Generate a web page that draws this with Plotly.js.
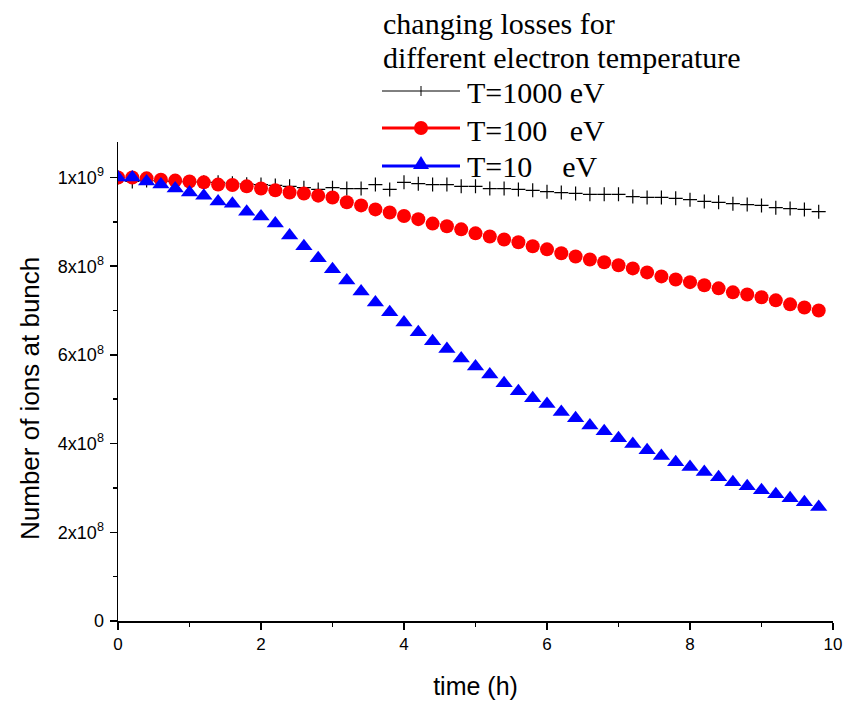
<!DOCTYPE html>
<html>
<head>
<meta charset="utf-8">
<script src="https://cdn.plot.ly/plotly-3.0.1.min.js"></script>
<style>html,body{margin:0;padding:0;background:#fff;}#chart{width:850px;height:704px;}</style>
</head>
<body>
<div id="chart"></div>
<script>
// time in hours
const time = [0,0.2,0.4,0.6,0.8,1,1.2,1.4,1.6,1.8,2,2.2,2.4,2.6,2.8,3,3.2,3.4,3.6,3.8,4,4.2,4.4,4.6,4.8,5,5.2,5.4,5.6,5.8,6,6.2,6.4,6.6,6.8,7,7.2,7.4,7.6,7.8,8,8.2,8.4,8.6,8.8,9,9.2,9.4,9.6,9.8];

// Number of ions at bunch
const ionsT1000 = [1.000e9,0.991e9,0.993e9,0.992e9,0.991e9,0.990e9,0.989e9,0.989e9,0.987e9,0.985e9,0.984e9,0.982e9,0.980e9,0.977e9,0.973e9,0.977e9,0.975e9,0.975e9,0.984e9,0.973e9,0.989e9,0.986e9,0.984e9,0.984e9,0.980e9,0.980e9,0.975e9,0.975e9,0.973e9,0.971e9,0.968e9,0.966e9,0.964e9,0.962e9,0.962e9,0.962e9,0.957e9,0.955e9,0.955e9,0.953e9,0.950e9,0.946e9,0.944e9,0.941e9,0.939e9,0.937e9,0.932e9,0.930e9,0.928e9,0.923e9];
const ionsT100 = [1.000e9,1.000e9,0.998e9,0.995e9,0.993e9,0.991e9,0.989e9,0.984e9,0.983e9,0.980e9,0.975e9,0.971e9,0.966e9,0.964e9,0.959e9,0.955e9,0.944e9,0.937e9,0.928e9,0.921e9,0.913e9,0.906e9,0.896e9,0.890e9,0.883e9,0.874e9,0.867e9,0.860e9,0.854e9,0.845e9,0.838e9,0.829e9,0.822e9,0.815e9,0.809e9,0.802e9,0.795e9,0.786e9,0.777e9,0.770e9,0.764e9,0.757e9,0.750e9,0.741e9,0.736e9,0.730e9,0.723e9,0.714e9,0.707e9,0.700e9];
const ionsT10 = [1.000e9,1.000e9,0.991e9,0.984e9,0.975e9,0.966e9,0.959e9,0.946e9,0.941e9,0.923e9,0.912e9,0.896e9,0.869e9,0.845e9,0.818e9,0.793e9,0.768e9,0.743e9,0.718e9,0.696e9,0.673e9,0.651e9,0.631e9,0.613e9,0.592e9,0.574e9,0.556e9,0.536e9,0.518e9,0.502e9,0.489e9,0.471e9,0.457e9,0.441e9,0.428e9,0.412e9,0.399e9,0.385e9,0.372e9,0.358e9,0.347e9,0.336e9,0.324e9,0.313e9,0.304e9,0.295e9,0.286e9,0.277e9,0.268e9,0.257e9];

// tick labels
const yTickVals = [0,2e8,4e8,6e8,8e8,1e9];
const yTickText = ['0','2x10<sup>8</sup>','4x10<sup>8</sup>','6x10<sup>8</sup>','8x10<sup>8</sup>','1x10<sup>9</sup>'];
const xTickVals = [0,2,4,6,8,10];
const xTickText = ['0','2','4','6','8','10'];

const seriesNames = ['T=1000 eV','T=100\u00A0\u00A0\u00A0eV','T=10\u00A0\u00A0\u00A0\u00A0eV'];
const legendTitleLines = ['changing losses for','different electron temperature'];

const serif = 'Liberation Serif, Times New Roman, serif';
const sans = 'Liberation Sans, Arial, sans-serif';

// ---- geometry (pixels) ----
const W = 850, H = 704;
const M = {l: 118, r: 17, t: 142, b: 83};
const plotW = W - M.l - M.r, plotH = H - M.t - M.b;
const PX = x => (x - M.l) / plotW;          // pixel -> paper x
const PY = y => (H - M.b - y) / plotH;       // pixel -> paper y

const traces = [
  {x: time, y: ionsT1000, mode: 'markers', name: seriesNames[0], showlegend: false,
   marker: {symbol: 'cross-thin-open', size: 10, color: '#000', line: {color: '#000', width: 1.2}}},
  {x: time, y: ionsT100, mode: 'markers', name: seriesNames[1], showlegend: false,
   marker: {symbol: 'circle', size: 14, color: '#ff0000', line: {width: 0}}},
  {x: time, y: ionsT10, mode: 'markers', name: seriesNames[2], showlegend: false,
   marker: {symbol: 'triangle-up', size: 15, color: '#0000ff', line: {width: 0}}}
];

// ---- hand-built legend (Origin style: long sample line with marker in middle) ----
const legX0 = 382, legX1 = 460, legMid = 421, legTextX = 465;
const rowY = [91, 128, 166];
const rowText = [93, 130, 166];
const shapes = [];
const ann = [];
function seg(x0, y0, x1, y1, color, width) {
  shapes.push({type: 'line', xref: 'paper', yref: 'paper', x0: PX(x0), y0: PY(y0), x1: PX(x1), y1: PY(y1),
               line: {color: color, width: width}});
}
// black: thin line + cross
seg(legX0, rowY[0], legX1, rowY[0], '#000', 1);
seg(legMid, rowY[0] - 5, legMid, rowY[0] + 5, '#000', 1);
// red: thick line + dot
seg(legX0, rowY[1], legX1, rowY[1], '#ff0000', 3);
shapes.push({type: 'circle', xref: 'paper', yref: 'paper', x0: PX(legMid - 7), x1: PX(legMid + 7),
             y0: PY(rowY[1] + 7), y1: PY(rowY[1] - 7), fillcolor: '#ff0000', line: {width: 0}});
// blue: thick line + triangle
seg(legX0, rowY[2], legX1, rowY[2], '#0000ff', 3);
shapes.push({type: 'path', xref: 'paper', yref: 'paper', fillcolor: '#0000ff', line: {width: 0},
             path: 'M' + PX(legMid - 8) + ',' + PY(rowY[2] + 3) + ' L' + PX(legMid + 8) + ',' + PY(rowY[2] + 3) +
                   ' L' + PX(legMid) + ',' + PY(rowY[2] - 10) + ' Z'});
legendTitleLines.forEach((t, i) => ann.push({text: t, xref: 'paper', yref: 'paper', x: PX(381), y: PY([24, 57][i]),
  xanchor: 'left', yanchor: 'middle', showarrow: false, font: {family: serif, size: 30, color: '#000'}}));
seriesNames.forEach((t, i) => ann.push({text: t, xref: 'paper', yref: 'paper', x: PX(legTextX), y: PY(rowText[i]),
  xanchor: 'left', yanchor: 'middle', showarrow: false, font: {family: serif, size: 30, color: '#000'}}));
ann.push({text: 'Number of ions at bunch', xref: 'paper', yref: 'paper',
  x: PX(30), y: PY(399), xanchor: 'center', yanchor: 'middle', textangle: -90,
  showarrow: false, font: {family: sans, size: 26, color: '#000'}});

const layout = {
  width: W, height: H,
  margin: {l: M.l, r: M.r, t: M.t, b: M.b, pad: 0, autoexpand: false},
  paper_bgcolor: '#fff', plot_bgcolor: '#fff',
  showlegend: false,
  xaxis: {
    range: [0, 10], showgrid: false, zeroline: false,
    showline: true, linecolor: '#000', linewidth: 1.5,
    ticks: 'outside', ticklen: 7, tickwidth: 1.5, tickcolor: '#000',
    tickmode: 'array', tickvals: xTickVals, ticktext: xTickText,
    tickfont: {family: sans, size: 17, color: '#000'},
    minor: {tickmode: 'linear', tick0: 0, dtick: 1, ticks: 'outside', ticklen: 4, tickwidth: 1.5, tickcolor: '#000', showgrid: false},
    title: {text: 'time (h)', font: {family: sans, size: 25, color: '#000'}, standoff: 24}
  },
  yaxis: {
    range: [0, 1.08e9], showgrid: false, zeroline: false,
    showline: true, linecolor: '#000', linewidth: 1.5,
    ticks: 'outside', ticklen: 7, tickwidth: 1.5, tickcolor: '#000',
    tickmode: 'array', tickvals: yTickVals, ticktext: yTickText,
    tickfont: {family: sans, size: 18, color: '#000'}, ticklabelstandoff: 2,
    minor: {tickmode: 'linear', tick0: 0, dtick: 1e8, ticks: 'outside', ticklen: 4, tickwidth: 1.5, tickcolor: '#000', showgrid: false}
  },
  shapes: shapes,
  annotations: ann
};

Plotly.newPlot('chart', traces, layout, {displayModeBar: false, staticPlot: true});
</script>
</body>
</html>
